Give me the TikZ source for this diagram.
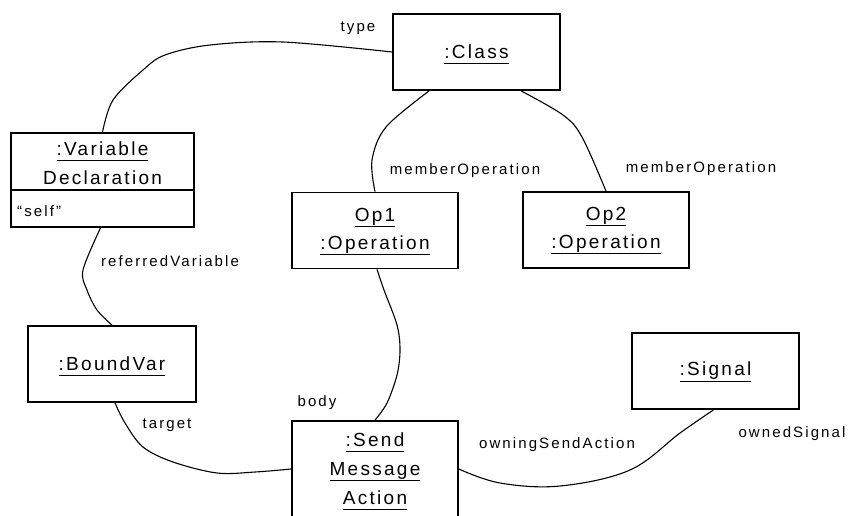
\documentclass[tikz,border=0pt]{standalone}
\usepackage{fontspec}
\setmainfont{Liberation Sans}
\newfontfamily\objfont{Liberation Sans}[LetterSpace=12]
\newfontfamily\labfont{Liberation Sans}[LetterSpace=14]
\usetikzlibrary{calc}
\newcommand\myul[1]{\setbox0\hbox{#1}\rlap{\smash{\rule[-5.5pt]{\wd0}{0.9pt}}}\box0}
\tikzset{
  obj/.style={draw, line width=1.8pt, rectangle, inner sep=0pt, minimum width=166pt,
    minimum height=76pt, align=center, font={\objfont\fontsize{19}{28}\selectfont}},
  objtext/.style={inner sep=0pt, align=center, font={\objfont\fontsize{19}{29}\selectfont}},
  lab/.style={font={\labfont\fontsize{15}{18}\selectfont}, inner sep=0pt, anchor=base},
  conn/.style={line width=1.1pt}
}
\begin{document}
\begin{tikzpicture}[x=1pt,y=-1pt]
\useasboundingbox (0,0) rectangle (848,515);
% objects
\node[obj, minimum width=167pt] (cls) at (476.5,52) {\myul{:Class}};
\node[obj, minimum width=183pt, minimum height=94pt] (vd) at (102.5,180) {};
\node[objtext] (vdn) at (102.5,163) {\myul{:Variable}\\\myul{Declaration}};
\draw[line width=1.8pt] ($(vd.north west)+(0,58)$) -- ($(vd.north east)+(0,58)$);
\node[lab, anchor=base west] (self) at (17,216) {“self”};
\node[obj] (op1) at (375,230.5) {\myul{Op1}\\\myul{:Operation}};
\node[obj] (op2) at (606,230) {\myul{Op2}\\\myul{:Operation}};
\node[obj, minimum width=168pt] (bv) at (112,364) {\myul{:BoundVar}};
\node[obj, minimum width=167pt] (sig) at (715.5,371) {\myul{:Signal}};
\begin{scope}
\clip (0,0) rectangle (848,515);
\node[obj, minimum height=96pt, font={\objfont\fontsize{19}{29}\selectfont}] (sm) at (375,469) {\myul{:Send}\\\myul{Message}\\\myul{Action}};
\end{scope}
% connectors
\draw[conn] plot[smooth, tension=0.55] coordinates {(cls.west) (283,42) (210,45) (165,55) (143,70) (113,100) (vd.north)};
\draw[conn] plot[smooth, tension=0.55] coordinates {($(cls.south west)+(37,0)$) (386,127) (372,160) (op1.north)};
\draw[conn] plot[smooth, tension=0.55] coordinates {($(cls.south west)+(129,0)$) (563,115) (582,137) (op2.north)};
\draw[conn] plot[smooth, tension=0.55] coordinates {($(vd.south)+(-2,0)$) (83,270) (87,290) (97,310) (bv.north)};
\draw[conn] plot[smooth, tension=0.55] coordinates {($(op1.south)+(2,0)$) (384,290) (397,325) (400,350) (397,375) (387,403) (sm.north)};
\draw[conn] plot[smooth, tension=0.55] coordinates {($(bv.south)+(3,0)$) (125,423) (143,447) (173,462) (217,473) (255,472) (sm.west)};
\draw[conn] plot[smooth, tension=0.6] coordinates {(sm.east) (500,483) (560,486) (630,470) (680,433) ($(sig.south)+(-2,0)$)};
% labels
\node[lab] (ltype) at (358,31) {type};
\node[lab] (lmo1) at (465,174) {memberOperation};
\node[lab] (lmo2) at (701,172) {memberOperation};
\node[lab] (lrv) at (170,266) {referredVariable};
\node[lab] (lbody) at (317,406) {body};
\node[lab] (ltarget) at (167,428) {target};
\node[lab] (lowning) at (557,448) {owningSendAction};
\node[lab] (lowned) at (792,437) {ownedSignal};
\end{tikzpicture}
\end{document}
